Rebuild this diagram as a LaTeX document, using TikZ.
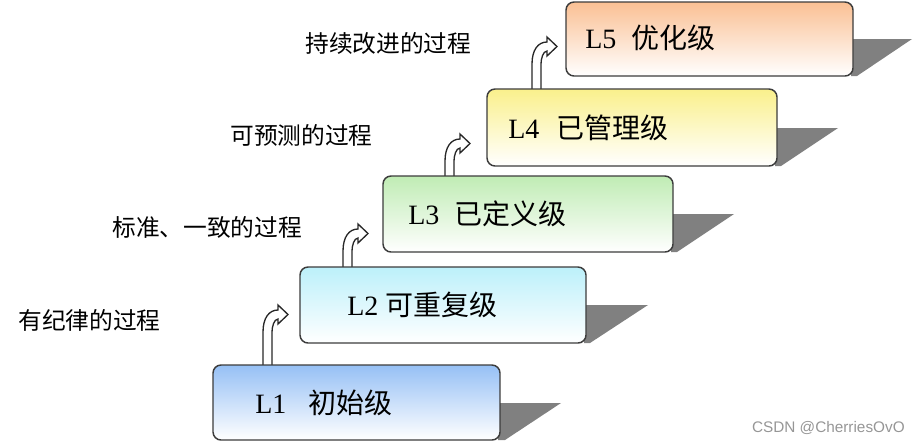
\documentclass[tikz,border=0pt]{standalone}
\usepackage{fontspec}
\setmainfont{Noto Sans CJK SC}
\newfontfamily\lvlfont{Liberation Serif}
\newfontfamily\markfont{Liberation Sans}
\usepackage{xcolor}

\begin{document}
\begin{tikzpicture}[x=0.75pt,y=0.75pt,yscale=-1,xscale=1,
  stepbox/.style={draw={rgb, 255:red, 60; green, 60; blue, 60 }, line width=1.1, rounded corners=6, bottom color=white},
  drop/.style={fill={rgb, 255:red, 128; green, 128; blue, 128 }, draw=none},
  bent/.style={draw={rgb, 255:red, 40; green, 40; blue, 40 }, fill=white, line width=1},
  lvltext/.style={anchor=west, inner sep=0pt, font=\fontsize{21}{24}\selectfont},
  proctext/.style={anchor=west, inner sep=0pt, font=\fontsize{17.8}{20}\selectfont}]
\useasboundingbox (0,0) rectangle (918,444);

%Shape: Polygon (shadows)
\draw [drop] (498,403) -- (561,403) -- (505,440) -- (498,440) -- cycle ;
\draw [drop] (584,305) -- (648,305) -- (590,343) -- (584,343) -- cycle ;
\draw [drop] (671,214) -- (734,214) -- (677,252) -- (671,252) -- cycle ;
\draw [drop] (775,128) -- (838,128) -- (781,166) -- (775,166) -- cycle ;
\draw [drop] (851,39) -- (912,39) -- (857,76) -- (851,76) -- cycle ;

%Shape: Bent Arrow L1 -> L2
\draw [bent] (263,368) -- (263,332) .. controls (263,318) and (269,310) .. (278,310) -- (278,305) -- (288,314.5) -- (278,324) -- (278,319) .. controls (274,319) and (272,327) .. (272,332) -- (272,368) -- cycle ;
%Shape: Bent Arrow L2 -> L3
\draw [bent] (343,271) -- (343,251) .. controls (343,237) and (349,229) .. (358,229) -- (358,224) -- (368,233.5) -- (358,243) -- (358,238) .. controls (354,238) and (352,246) .. (352,251) -- (352,271) -- cycle ;
%Shape: Bent Arrow L3 -> L4
\draw [bent] (445,179) -- (445,161) .. controls (445,147) and (451,139) .. (460,139) -- (460,134) -- (470,143.5) -- (460,153) -- (460,148) .. controls (456,148) and (454,156) .. (454,161) -- (454,179) -- cycle ;
%Shape: Bent Arrow L4 -> L5
\draw [bent] (532,91) -- (532,64) .. controls (532,50) and (538,42) .. (547,42) -- (547,37) -- (557,46.5) -- (547,56) -- (547,51) .. controls (543,51) and (541,59) .. (541,64) -- (541,91) -- cycle ;

%Rounded Rect
\draw [stepbox, top color={rgb, 255:red, 150; green, 192; blue, 245 }] (213,365) rectangle (500,440) ;
%Rounded Rect
\draw [stepbox, top color={rgb, 255:red, 188; green, 240; blue, 250 }] (300,267) rectangle (586,343) ;
%Rounded Rect
\draw [stepbox, top color={rgb, 255:red, 192; green, 236; blue, 180 }] (383,176) rectangle (673,252) ;
%Rounded Rect
\draw [stepbox, top color={rgb, 255:red, 250; green, 240; blue, 140 }] (487,89) rectangle (777,166) ;
%Rounded Rect
\draw [stepbox, top color={rgb, 255:red, 250; green, 192; blue, 148 }] (566,2) rectangle (853,76) ;

% Text Node
\node (t1) [lvltext] at (255,403) {{\lvlfont L1}\hspace{16.5pt}初始级};
% Text Node
\node (t2) [lvltext] at (347,305) {{\lvlfont L2}\hspace{5pt}可重复级};
% Text Node
\node (t3) [lvltext] at (408,214) {{\lvlfont L3}\hspace{11pt}已定义级};
% Text Node
\node (t4) [lvltext] at (508,128) {{\lvlfont L4}\hspace{12.5pt}已管理级};
% Text Node
\node (t5) [lvltext] at (585,38) {{\lvlfont L5}\hspace{11pt}优化级};

% Text Node
\node (p5) [proctext] at (305,43) {持续改进的过程};
% Text Node
\node (p4) [proctext] at (230,135) {可预测的过程};
% Text Node
\node (p3) [proctext] at (112,227) {标准、一致的过程};
% Text Node
\node (p2) [proctext] at (18,320) {有纪律的过程};

% Text Node
\node (mark) [anchor=east, inner sep=0pt, font=\markfont\fontsize{11.5}{13}\selectfont, color={rgb, 255:red, 150; green, 150; blue, 150 }] at (905,428) {CSDN @CherriesOvO};

\end{tikzpicture}
\end{document}
